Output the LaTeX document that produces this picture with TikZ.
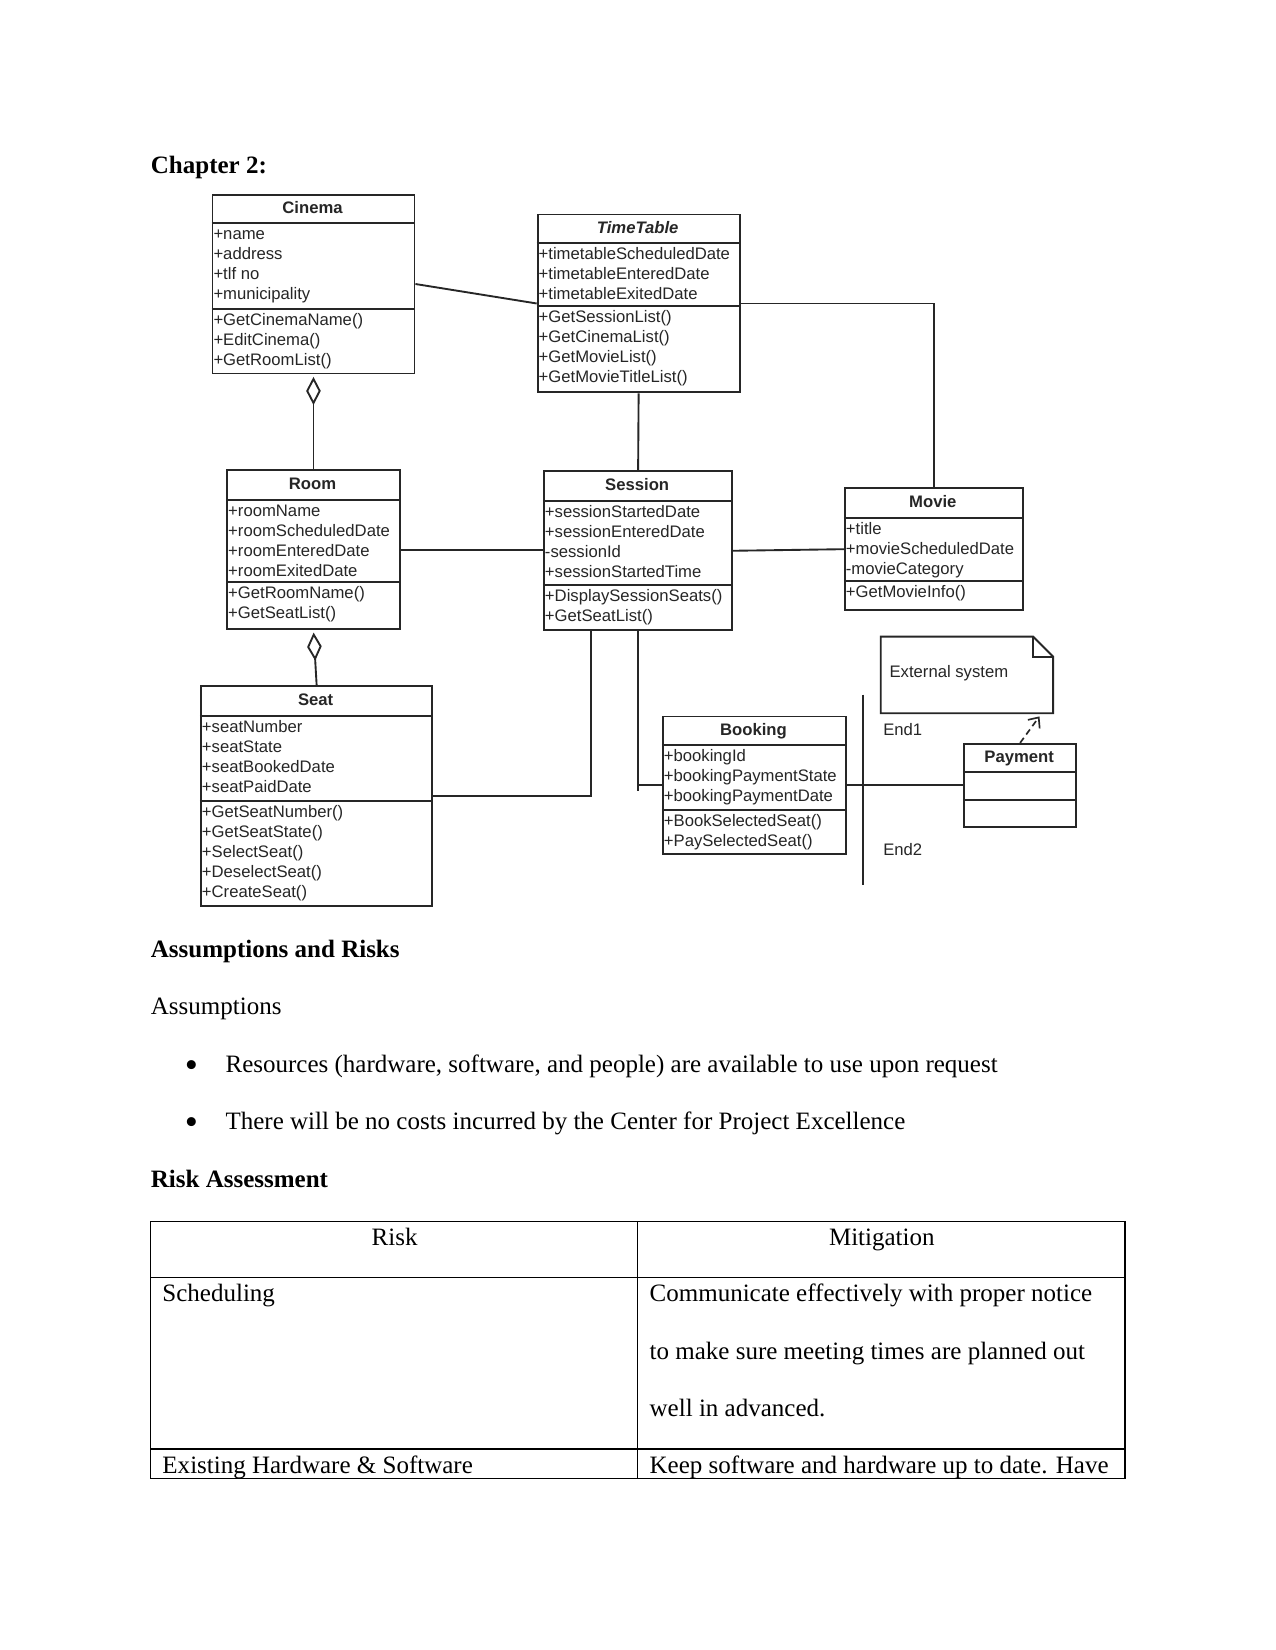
\documentclass[tikz,border=0pt]{standalone}
\usepackage{fontspec}
\setmainfont{Liberation Serif}
\newfontfamily\umlfont{Liberation Sans}
\usetikzlibrary{arrows.meta,calc}
\newcommand\upx{0.505pt}
\tikzset{
  umlline/.style={draw=black!85, line width=0.9pt},
  classbox/.style={umlline, rectangle, inner sep=0pt, anchor=north west},
  classtitle/.style={font=\umlfont\fontsize{8}{9.6}\selectfont\bfseries, text=black!85, inner sep=0pt, anchor=base},
  classrows/.style={font=\umlfont\fontsize{8}{9.6}\selectfont, text=black!85, inner sep=0pt, anchor=north west, align=left},
  umltext/.style={font=\umlfont\fontsize{8}{9.6}\selectfont, text=black!85, inner sep=0pt, anchor=west},
  body/.style={font=\fontsize{12}{14}\selectfont, inner sep=0pt, anchor=base west},
  bodybold/.style={body, font=\fontsize{12}{14}\selectfont\bfseries},
  bulletmark/.style={font=\fontsize{18}{18}\selectfont, inner sep=0pt, anchor=center},
  tableline/.style={draw=black, line width=0.6pt},
  aggr/.style={umlline, -{Diamond[open, length=13.5pt, width=7pt]}, shorten >=1.2pt},
}
\newcommand\umlbox[8]{%
  \node[classbox, minimum width=#4*\upx, minimum height=#5*\upx] (#1) at (#2,#3) {};
  \draw[umlline] (#2,#6) -- ++(#4,0);
  \draw[umlline] (#2,#7) -- ++(#4,0);
  \node[classtitle] (#1-t) at (#2+#4/2,#3+19) {#8};
}
\newcommand\umlrows[4]{\node[classrows] (#1) at (#2+1.5,#3+2) {#4};}
\begin{document}
\begin{tikzpicture}[x=0.505pt,y=-0.505pt]
\path[use as bounding box, fill=white] (0,0) rectangle (1212,1568);

% heading
\node[bodybold] (chap) at (143,165) {Chapter 2:};

% classes
\umlbox{cinema}{201}{184}{192}{170}{212}{294}{Cinema}
\umlrows{cinema-a}{201}{212}{\strut+name\\\strut+address\\\strut+tlf no\\\strut+municipality}
\umlrows{cinema-m}{201}{294}{\strut+GetCinemaName()\\\strut+EditCinema()\\\strut+GetRoomList()}

\umlbox{timetable}{510}{203}{192}{169}{231}{291}{\itshape TimeTable}
\umlrows{timetable-a}{510}{231}{\strut+timetableScheduledDate\\\strut+timetableEnteredDate\\\strut+timetableExitedDate}
\umlrows{timetable-m}{510}{291}{\strut+GetSessionList()\\\strut+GetCinemaList()\\\strut+GetMovieList()\\\strut+GetMovieTitleList()}

\umlbox{room}{215}{446}{164}{151}{475}{553}{Room}
\umlrows{room-a}{215}{475}{\strut+roomName\\\strut+roomScheduledDate\\\strut+roomEnteredDate\\\strut+roomExitedDate}
\umlrows{room-m}{215}{553}{\strut+GetRoomName()\\\strut+GetSeatList()}

\umlbox{session}{516}{447}{179}{151}{476}{556}{Session}
\umlrows{session-a}{516}{476}{\strut+sessionStartedDate\\\strut+sessionEnteredDate\\\strut-sessionId\\\strut+sessionStartedTime}
\umlrows{session-m}{516}{556}{\strut+DisplaySessionSeats()\\\strut+GetSeatList()}

\umlbox{movie}{802}{463}{169}{116}{492}{552}{Movie}
\umlrows{movie-a}{802}{492}{\strut+title\\\strut+movieScheduledDate\\\strut-movieCategory}
\umlrows{movie-m}{802}{552}{\strut+GetMovieInfo()}

\umlbox{seat}{190}{651}{220}{209}{680}{761}{Seat}
\umlrows{seat-a}{190}{680}{\strut+seatNumber\\\strut+seatState\\\strut+seatBookedDate\\\strut+seatPaidDate}
\umlrows{seat-m}{190}{761}{\strut+GetSeatNumber()\\\strut+GetSeatState()\\\strut+SelectSeat()\\\strut+DeselectSeat()\\\strut+CreateSeat()}

\umlbox{booking}{629}{680}{174}{131}{708}{770}{Booking}
\umlrows{booking-a}{629}{708}{\strut+bookingId\\\strut+bookingPaymentState\\\strut+bookingPaymentDate}
\umlrows{booking-m}{629}{770}{\strut+BookSelectedSeat()\\\strut+PaySelectedSeat()}

\umlbox{payment}{915}{706}{107}{79}{734}{760}{Payment}

% note
\node[inner sep=0pt, minimum width=163*\upx, minimum height=72*\upx, anchor=north west] (note) at (837,605) {};
\draw[umlline] (note.north west) -- ($(note.north east)+(-19,0)$) -- ($(note.north east)+(0,19)$) -- (note.south east) -- (note.south west) -- cycle;
\draw[umlline] ($(note.north east)+(-19,0)$) -- ($(note.north east)+(-19,19)$) -- ($(note.north east)+(0,19)$);
\node[umltext] (notetext) at (845,640) {External system};

% connectors
\draw[umlline] (cinema.east) -- (timetable.west);
\draw[umlline] (timetable.east) -- (timetable.east -| movie.north) -- (movie.north);
\draw[umlline] (timetable.south) -- (session.north);
\draw[umlline] (room.east) -- (room.east -| session.west);
\draw[umlline] (session.east) -- (movie.west);
\draw[aggr] (room.north) -- (cinema.south);
\draw[aggr] (seat.north) -- (room.south);
\coordinate (ss) at ($(session.south)+(-44.5,0)$);
\draw[umlline] (seat.east) -- (seat.east -| ss) -- (ss);
\draw[umlline] (session.south) -- ($(session.south |- booking.west)+(0,5)$);
\draw[umlline] (session.south |- booking.west) -- (booking.west);
\draw[umlline] (booking.east) -- (payment.west);
\coordinate (bart) at (820,660);
\coordinate (barb) at (820,841);
\draw[umlline, line width=1.2pt] (bart) -- (barb);
\node[umltext] (end1) at (839,693) {End1};
\node[umltext] (end2) at (839,807) {End2};
\draw[umlline, line width=0.8pt, dash pattern=on 3pt off 2pt, -{Straight Barb[length=4pt,width=7pt]}] (payment.north) -- ($(note.south east)+(-13,3)$);

% text
\node[bodybold] (ar) at (143,910) {Assumptions and Risks};
\node[body] (as) at (143,964) {Assumptions};
\node[bulletmark] (b1) at (182,1016) {\textbullet};
\node[body] (r1) at (214,1019) {Resources (hardware, software, and people) are available to use upon request};
\node[bulletmark] (b2) at (182,1070) {\textbullet};
\node[body] (r2) at (214,1073) {There will be no costs incurred by the Center for Project Excellence};
\node[bodybold] (ra) at (143,1128) {Risk Assessment};

% table
\draw[tableline] (143,1161) rectangle (1069,1405);
\draw[tableline] (606,1161) -- (606,1405);
\draw[tableline] (143,1214) -- (1069,1214);
\draw[tableline] (143,1377) -- (1069,1377);
\node[body, anchor=base] (th1) at (375,1184) {Risk};
\node[body, anchor=base] (th2) at (838,1184) {Mitigation};
\node[body] (c11) at (154,1237) {Scheduling};
\node[body] (c12a) at (617,1237) {Communicate effectively with proper notice};
\node[body] (c12b) at (617,1292) {to make sure meeting times are planned out};
\node[body] (c12c) at (617,1346) {well in advanced.};
\node[body] (c21) at (154,1400) {Existing Hardware \& Software};
\node[body] (c22) at (617,1400) {Keep software and hardware up to date. Have};
\end{tikzpicture}
\end{document}
